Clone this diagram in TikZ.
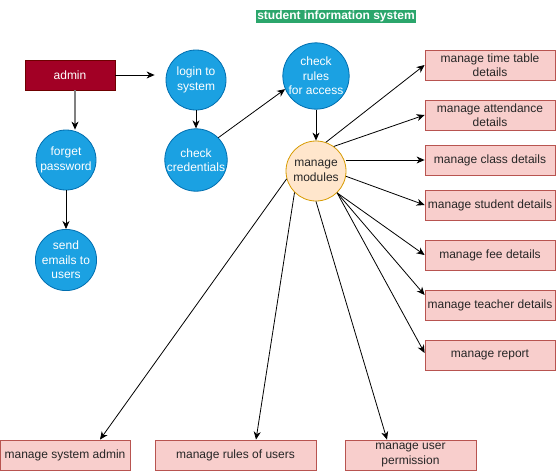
\documentclass[tikz,border=0pt]{standalone}
\usepackage{fontspec}
\setmainfont{Liberation Sans}
\usetikzlibrary{arrows.meta}

\definecolor{procfill}{HTML}{1BA1E2}
\definecolor{procline}{HTML}{006EAF}
\definecolor{hubfill}{HTML}{FFE6CC}
\definecolor{hubline}{HTML}{D79B00}
\definecolor{taskfill}{HTML}{F8CECC}
\definecolor{taskline}{HTML}{B85450}
\definecolor{actorfill}{HTML}{A20025}
\definecolor{actorline}{HTML}{6F0000}
\definecolor{titlebg}{HTML}{2BA66C}

\tikzset{
  basefont/.style={font=\fontsize{12}{14.5}\selectfont, align=center},
  process/.style={basefont, circle, minimum size=60pt, inner sep=0pt,
    fill=procfill, draw=procline, line width=0.8pt, text=white},
  hub/.style={basefont, circle, minimum size=60pt, inner sep=0pt,
    fill=hubfill, draw=hubline, line width=0.8pt, text=black!85},
  task/.style={basefont, rectangle, minimum height=30pt, inner sep=0pt,
    fill=taskfill, draw=taskline, line width=0.8pt, text=black!85},
  actor/.style={basefont, rectangle, minimum width=90pt, minimum height=30pt,
    inner sep=0pt, fill=actorfill, draw=actorline, line width=0.8pt, text=white},
  banner/.style={font=\bfseries\fontsize{12}{13}\selectfont, fill=titlebg,
    text=white, inner xsep=1pt, inner ysep=0.5pt, minimum height=13pt},
  arr/.style={draw=black, line width=0.8pt,
    -{Stealth[length=8pt,width=7pt,inset=2.5pt]}},
  greyarr/.style={draw=black!50, line width=1.3pt,
    -{Stealth[length=8pt,width=7pt,inset=2.5pt,black,line width=0.8pt]}},
}

\begin{document}
\begin{tikzpicture}[x=1pt, y=-1pt]
  \useasboundingbox (0,0) rectangle (556,471);

  % heading
  \node[banner] (title) at (336,16.5) {student information system};

  % actor and login flow
  \node[actor] (admin) at (70,75) {admin};
  \node[process] (login) at (196,80) {login to\\system};
  \node[process] (cred) at (196,160) {check\\credentials};
  \node[process] (forget) at (66,160) {forget\\password};
  \node[process] (mail) at (66,260) {send\\emails to\\users};
  \node[process] (rules) at (316,76) {check\\rules\\for access};
  \node[hub] (modules) at (316,171) {manage\\modules};

  % module tasks on the right
  \node[task, minimum width=130pt] (timetable) at (490,65) {manage time table\\details};
  \node[task, minimum width=130pt] (attend) at (490,115) {manage attendance\\details};
  \node[task, minimum width=130pt] (class) at (490,160) {manage class details};
  \node[task, minimum width=130pt] (student) at (490,205) {manage student details};
  \node[task, minimum width=130pt] (fee) at (490,255) {manage fee details};
  \node[task, minimum width=130pt] (teacher) at (490,305) {manage teacher details};
  \node[task, minimum width=130pt] (report) at (490,355) {manage report};

  % module tasks along the bottom
  \node[task, minimum width=130pt] (sysadmin) at (65,455) {manage system admin};
  \node[task, minimum width=161pt] (userrules) at (235.5,455) {manage rules of users};
  \node[task, minimum width=131pt] (perm) at (410.5,455) {manage user\\permission};

  % flow connectors
  \draw[arr, shorten >=11pt] (admin.east) -- (login.west |- admin.east);
  \draw[greyarr] ([xshift=5pt]admin.south) -- ([xshift=5pt]admin.south |- forget.north);
  \draw[arr] (login.south) -- (cred.north);
  \draw[arr] (forget.south) -- (mail.north);
  \draw[arr] (cred.45) -- (rules.203);
  \draw[arr] (rules.south) -- (modules.north);

  % hub to tasks
  \draw[arr] (modules.71) -- (timetable.west);
  \draw[arr] (modules.54) -- (attend.west);
  \draw[arr] (modules.east |- class.west) -- (class.west);
  \draw[arr] (modules.-10) -- (student.west);
  \draw[arr] (modules.-46) -- (fee.west);
  \draw[arr] (modules.-46) -- ([yshift=10pt]teacher.west);
  \draw[arr] (modules.-46) -- ([yshift=2pt]report.west);
  \draw[arr] (modules.195) -- ([xshift=35pt]sysadmin.north);
  \draw[arr] (modules.225) -- ([xshift=20.5pt]userrules.north);
  \draw[arr] (modules.south) -- ([xshift=-23.5pt]perm.north);
\end{tikzpicture}
\end{document}
